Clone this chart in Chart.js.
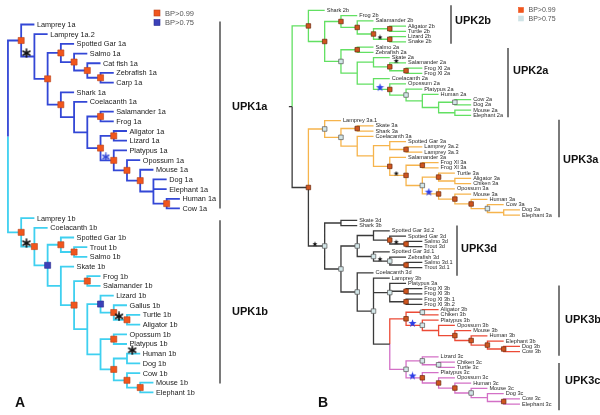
<!DOCTYPE html>
<html><head><meta charset="utf-8">
<script src="https://cdn.jsdelivr.net/npm/chart.js@4/dist/chart.umd.min.js"></script>
<style>html,body{margin:0;padding:0;background:#fff}#c{display:block}</style>
</head><body>
<canvas id="c" width="600" height="415"></canvas>
<script>
// ---------------- DATA ----------------
// Trees (cladograms) in Newick-like notation.  Node annotations in [...]:
//  o = BP>0.99 square, b = BP>0.75 square, k* = black star on branch, b* = blue star on branch,
//  c:NAME = clade colour for the subtree, stub = short root stem
const treeA = `(
 (Lamprey 1a,
  (Lamprey 1a.2,
   (
    (Spotted Gar 1a,(Salmo 1a,(Cat fish 1a,(Zebrafish 1a,Carp 1a)[o])[o])[o])[o],
    (Shark 1a,(Coelacanth 1a,((Salamander 1a,Frog 1a)[o],((Aligator 1a,Lizard 1a)[o],(Platypus 1a,(Opossum 1a,(Mouse 1a,(Dog 1a,Elephant 1a,(Human 1a,Cow 1a)[o]))[o])[o])[o b*])[o])))[o]
   )[o]
  )[k*]
 )[o c:blue],
 (Lamprey 1b,
  (Coelacanth 1b,
   (
    (Spotted Gar 1b,(Trout 1b,Salmo 1b)[o])[o],
    (Skate 1b,
     (
      (Frog 1b,Salamander 1b)[o],
      (
       (Lizard 1b,(Gallus 1b,(Turtle 1b,Aligator 1b)[o k*])[o])[b],
       (
        (Opossum 1b,Platypus 1b)[o],
        ((Human 1b[k*],Dog 1b),(Cow 1b,(Mouse 1b,Elephant 1b)[o])[o])[o]
       )
      )
     )[o]
    )
   )[b]
  )[o k*]
 )[o c:cyan]
)`;

const treeB = `(
 (Shark 2b,
  (
   (Frog 2b,(Salamander 2b,((Aligator 2b,Turtle 2b)[o],(Lizard 2b,Snake 2b)[o k*])[o])[o])[o],
   (
    (Salmo 2a,Zebrafish 2a)[o],
    (
     (Skate 2a,(Salamander 2a[k*],(Frog Xl 2a,Frog Xl 2a)[o])[o]),
     (Coelacanth 2a,(Opossum 2a,(Platypus 2a,(Human 2a,((Cow 2a,Dog 2a)[b],(Mouse 2a,Elephant 2a))))[b])[o b*])
    )
   )[b]
  )[o]
 )[o c:green],
 (
  (Lamprey 3a.1,
   (
    (Skate 3a,Shark 3a)[o],
    (Coelacanth 3a,
     (
      (Spotted Gar 3a,(Lamprey 3a.2,Lamprey 3a.3)[o]),
      (Salamander 3a,
       (
        (Frog Xl 3a,Frog Xl 3a)[o],
        (
         (Turtle 3a,(Aligator 3a,Chiken 3a))[o],
         (Opossum 3a,(Mouse 3a,(Human 3a,(Cow 3a,(Dog 3a,Elephant 3a))[b])[o])[o])[o b*]
        )[b]
       )[o k*]
      )[o]
     )
    )
   )[b]
  )[b c:orange],
  (
   (Skate 3d,Shark 3b),
   (
    (
     (Spotted Gar 3d.2,(Spotted Gar 3d,(Salmo 3d,Trout 3d)[o k*])[o]),
     (Spotted Gar 3d.1,(Zebrafish 3d,(Salmo 3d.1,Trout 3d.1)[o])[b k*])[b]
    )[b],
    (Coelacanth 3d,
     (Lamprey 3b,
      (Platypus 3a,(Frog Xl 3b,Frog Xl 3b)[o],(Frog Xl 3b.1,Frog Xl 3b.2)[o])[b],
      (
       (
        (Aligator 3b,Chiken 3b)[b],
        (Platypus 3b,(Opossum 3b,(Mouse 3b,(Human 3b,(Elephant 3b,(Dog 3b,Cow 3b)[o])[o])[o])[o]))[b b*]
       )[o c:red],
       (
        (Lizard 3c,(Chiken 3c,Turtle 3c)[b])[b],
        (Platypus 3c,(Opossum 3c,(Human 3c,(Mouse 3c,(Dog 3c,(Cow 3c,Elephant 3c)[o]))[b])[o])[o])[o b*]
       )[b c:magenta]
      )
     )[b]
    )[b]
   )[b]
  )[b k*]
 )[o]
)[stub]`;

// clade brackets: [label, first leaf, last leaf]
const cladesA = [['UPK1a','Lamprey 1a','Cow 1a'],['UPK1b','Lamprey 1b','Elephant 1b']];
const cladesB = [['UPK2b','Shark 2b','Snake 2b'],['UPK2a','Salmo 2a','Elephant 2a'],
                 ['UPK3a','Lamprey 3a.1','Elephant 3a'],['UPK3d','Skate 3d','Trout 3d.1'],
                 ['UPK3b','Platypus 3a','Cow 3b'],['UPK3c','Lizard 3c','Elephant 3c']];
const legendLabels = ['BP>0.99','BP>0.75'];
const panelLetters = ['A','B'];

// ---------------- LAYOUT / STYLE ----------------
const W = 600, H = 415;
const geomA = {x0: 3, step: 13.45, y0: 20, dy: 9.92};
const geomB = {x0: 292, step: 16.55, y0: 5.5, dy: 5.38};
const colA = {root:'#111111', blue:'#3347d6', cyan:'#3fd0f0'};
const colB = {root:'#3a3a3a', green:'#62e062', orange:'#f6b44c', red:'#ec4a36', magenta:'#d370c6'};
const bracketPos = {
  UPK1a:{x:220,lx:232,ly:107,pad:[-3,0]}, UPK1b:{x:220,lx:232,ly:312,pad:[2,-9]},
  UPK2b:{x:451,lx:455,ly:21,pad:[-5,2]}, UPK2a:{x:508,lx:513,ly:71,pad:[1,2]},
  UPK3a:{x:559,lx:563,ly:160,pad:[-1,2]}, UPK3d:{x:457,lx:461,ly:249,pad:[5,8]},
  UPK3b:{x:559,lx:565,ly:320,pad:[2,4]}, UPK3c:{x:559,lx:565,ly:381,pad:[6,6]}
};

// ---------------- TREE PARSING ----------------
function parseTree(str){
  let i=0;
  const ws=()=>{while(i<str.length && /\s/.test(str[i])) i++;};
  function node(){
    ws();
    const n={children:[],name:'',ann:[]};
    if(str[i]==='('){
      i++; n.children.push(node()); ws();
      while(str[i]===','){ i++; n.children.push(node()); ws(); }
      i++;
    } else {
      const s=i; while(i<str.length && !'(),['.includes(str[i])) i++;
      n.name=str.slice(s,i).trim();
    }
    ws();
    if(str[i]==='['){ const s=++i; while(str[i]!==']') i++; n.ann=str.slice(s,i).trim().split(/\s+/); i++; }
    return n;
  }
  return node();
}
function layoutTree(root, rootColor){
  let row=0; const leaves=[], nodes=[];
  (function walk(n,depth,parent,color){
    n.parent=parent;
    const c=n.ann.find(a=>a.startsWith('c:'));
    n.color=c?c.slice(2):color;
    n.x=depth; nodes.push(n);
    if(n.children.length){
      n.children.forEach(ch=>walk(ch,depth+1,n,n.color));
      n.y=(n.children[0].y+n.children[n.children.length-1].y)/2;
    } else { n.y=row++; leaves.push(n); }
  })(root,0,null,rootColor);
  return {root,leaves,nodes};
}

function starCanvas(size,color,kind){
  const c=document.createElement('canvas'); c.width=c.height=size;
  const g=c.getContext('2d'); const m=size/2;
  if(kind==='ast'){
    g.strokeStyle=color; g.lineWidth=Math.max(1.3,size/6); g.lineCap='round';
    const r=m-1;
    for(let k=0;k<3;k++){const a=Math.PI/2+k*Math.PI/3;
      g.beginPath(); g.moveTo(m+r*Math.cos(a),m+r*Math.sin(a)); g.lineTo(m-r*Math.cos(a),m-r*Math.sin(a)); g.stroke();}
  } else {
    g.fillStyle=color; g.beginPath();
    const R=m-0.3, r=R*0.42;
    for(let k=0;k<10;k++){const a=-Math.PI/2+k*Math.PI/5; const rr=k%2?r:R;
      g.lineTo(m+rr*Math.cos(a),m+rr*Math.sin(a));}
    g.closePath(); g.fill();
  }
  return c;
}

function buildDatasets(T, palette, axX, axY, style){
  const byColor={};
  const seg=(color,pts)=>{(byColor[color]=byColor[color]||[]).push(...pts,{x:NaN,y:NaN});};
  T.nodes.forEach(n=>{
    if(n.parent){
      const p=n.parent;
      seg(n.color,[{x:p.x,y:p.y},{x:p.x,y:n.y},{x:n.x,y:n.y}]);
    } else if(n.ann.includes('stub')){
      seg(n.color,[{x:n.x-0.2,y:n.y},{x:n.x,y:n.y}]);
    }
  });
  const ds=[];
  Object.keys(byColor).forEach(k=>{
    ds.push({type:'scatter',showLine:true,data:byColor[k],xAxisID:axX,yAxisID:axY,
      borderColor:palette[k],borderWidth:style.lw,pointRadius:0,spanGaps:false,tension:0,
      borderJoinStyle:'miter',borderCapStyle:'butt',clip:false,order:3});
  });
  const sqO=T.nodes.filter(n=>n.ann.includes('o')).map(n=>({x:n.x,y:n.y}));
  const sqB=T.nodes.filter(n=>n.ann.includes('b')).map(n=>({x:n.x,y:n.y}));
  const starPt=n=>({x:n.parent.x+0.4,y:n.y-0.35});
  const stK=T.nodes.filter(n=>n.ann.includes('k*')).map(starPt);
  const stB=T.nodes.filter(n=>n.ann.includes('b*')).map(starPt);
  ds.push({type:'scatter',data:sqO,xAxisID:axX,yAxisID:axY,pointStyle:'rect',pointRadius:style.sq,
    backgroundColor:style.oFill,borderColor:style.oLine,borderWidth:style.sqLw,clip:false,order:2});
  ds.push({type:'scatter',data:sqB,xAxisID:axX,yAxisID:axY,pointStyle:'rect',pointRadius:style.sq,
    backgroundColor:style.bFill,borderColor:style.bLine,borderWidth:style.sqLw,clip:false,order:2});
  ds.push({type:'scatter',data:stK,xAxisID:axX,yAxisID:axY,pointStyle:style.kStar,pointRadius:4,clip:false,order:1});
  ds.push({type:'scatter',data:stB,xAxisID:axX,yAxisID:axY,pointStyle:style.bStar,pointRadius:4,clip:false,order:1});
  return ds;
}

const TA=layoutTree(parseTree(treeA),'root');
const TB=layoutTree(parseTree(treeB),'root');

const dsA=buildDatasets(TA,colA,'xA','yA',{lw:1.8,sq:4.3,sqLw:0.6,oFill:'#f0561e',oLine:'#b8421a',
  bFill:'#3b40b8',bLine:'#2a2e90',kStar:starCanvas(10,'#111','ast'),bStar:starCanvas(9,'#3347d6','ast')});
const dsB=buildDatasets(TB,colB,'xB','yB',{lw:1.3,sq:3.2,sqLw:0.7,oFill:'#cf551f',oLine:'#6a2a10',
  bFill:'#d3e6e8',bLine:'#555',kStar:starCanvas(6,'#111','star'),bStar:starCanvas(9,'#2d3ee6','star')});

const lin=(g,axis)=> axis==='x'
  ? {type:'linear',display:false,min:-g.x0/g.step,max:(W-g.x0)/g.step}
  : {type:'linear',display:false,reverse:true,min:-g.y0/g.dy,max:(H-g.y0)/g.dy};

const textPlugin={
  id:'treeText',
  afterDatasetsDraw(chart){
    const ctx=chart.ctx; const s=chart.scales;
    ctx.save();
    ctx.textBaseline='middle'; ctx.textAlign='left';
    ctx.fillStyle='#1a1a1a'; ctx.font='7.3px "Liberation Sans", Arial, sans-serif';
    TA.leaves.forEach(l=>ctx.fillText(l.name,s.xA.getPixelForValue(l.x)+2.5,s.yA.getPixelForValue(l.y)+0.5));
    ctx.fillStyle='#2a2a2a'; ctx.font='5.6px "Liberation Sans", Arial, sans-serif';
    TB.leaves.forEach(l=>ctx.fillText(l.name,s.xB.getPixelForValue(l.x)+2,s.yB.getPixelForValue(l.y)));
    const brackets=(clades,T,ys)=>clades.forEach(([lab,a,b])=>{
      const p=bracketPos[lab];
      const la=T.leaves.find(l=>l.name===a), lb=T.leaves.find(l=>l.name===b);
      const y1=ys.getPixelForValue(la.y)+p.pad[0], y2=ys.getPixelForValue(lb.y)+p.pad[1];
      ctx.strokeStyle='#7a7a7a'; ctx.lineWidth=2; ctx.beginPath(); ctx.moveTo(p.x,y1); ctx.lineTo(p.x,y2); ctx.stroke();
      ctx.fillStyle='#111'; ctx.font='bold 11px "Liberation Sans", Arial, sans-serif';
      ctx.fillText(lab,p.lx,p.ly);
    });
    brackets(cladesA,TA,s.yA); brackets(cladesB,TB,s.yB);
    const legend=(x,y,gap,side,fills,lines,font)=>{
      legendLabels.forEach((t,i)=>{
        ctx.fillStyle=fills[i]; ctx.fillRect(x-side/2,y+i*gap-side/2,side,side);
        ctx.strokeStyle=lines[i]; ctx.lineWidth=0.6; ctx.strokeRect(x-side/2,y+i*gap-side/2,side,side);
        ctx.fillStyle='#555'; ctx.font=font; ctx.fillText(t,x+side/2+5,y+i*gap+0.5);
      });
    };
    legend(157,13,9.5,6,['#f0561e','#3b40b8'],['#b8421a','#2a2e90'],'7.5px "Liberation Sans", Arial, sans-serif');
    legend(521,10,8.5,5,['#f0561e','#cfe3e6'],['#f0561e','#cfe3e6'],'7px "Liberation Sans", Arial, sans-serif');
    ctx.fillStyle='#111'; ctx.font='bold 14px "Liberation Sans", Arial, sans-serif';
    ctx.fillText(panelLetters[0],15,403); ctx.fillText(panelLetters[1],318,403);
    ctx.restore();
  }
};

new Chart(document.getElementById('c'),{
  data:{datasets:[...dsA,...dsB]},
  options:{responsive:false,animation:false,devicePixelRatio:1,events:[],
    layout:{padding:0},
    plugins:{legend:{display:false},tooltip:{enabled:false},title:{display:false}},
    scales:{xA:lin(geomA,'x'),yA:lin(geomA,'y'),xB:lin(geomB,'x'),yB:lin(geomB,'y')}
  },
  plugins:[textPlugin]
});
</script>
</body></html>
